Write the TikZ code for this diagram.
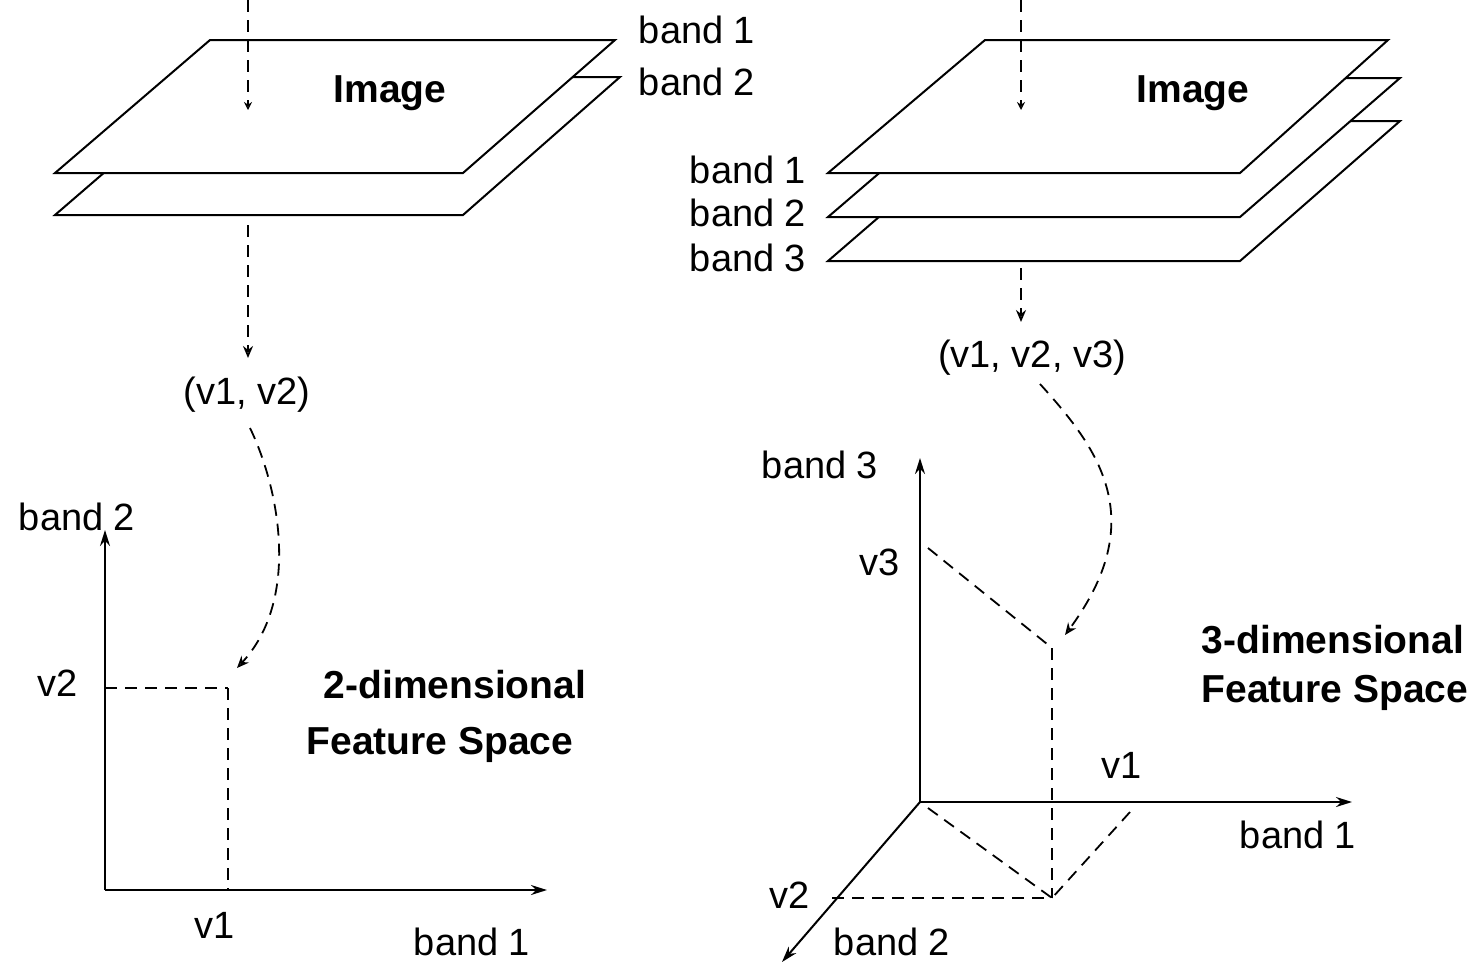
\documentclass[tikz,border=0pt]{standalone}
\usepackage{fontspec}
\setmainfont{Liberation Sans}
\usetikzlibrary{arrows.meta}
\begin{document}
\begin{tikzpicture}[x=0.5pt,y=-0.5pt,
  every node/.style={font=\fontsize{19}{21}\selectfont, inner sep=0pt},
  ttl/.style={font=\fontsize{19.5}{21}\selectfont\bfseries},
  plane/.style={draw, line width=1pt, fill=white, line join=miter},
  axis/.style={line width=1pt, -{Stealth[length=8pt,width=5pt]}},
  dsh/.style={line width=0.9pt, dash pattern=on 6pt off 4pt},
  darr/.style={dsh, -{Stealth[length=6pt,width=5pt,open]}},
  tarr/.style={dsh, -{Stealth[length=4pt,width=4pt,open]}},
]
\useasboundingbox (0,0) rectangle (1478,966);

% ---------- left: image planes ----------
\draw[plane] (55,215) -- (463,215) -- (620,77) -- (215,77) -- cycle;
\draw[plane] (55,173) -- (463,173) -- (615,40) -- (210,40) -- cycle;
\node (limg) at (390,93) [ttl] {Image};
\node (lb1) at (697,30) {band 1};
\node (lb2) at (697,82) {band 2};

\coordinate (la0) at (248,0);
\coordinate (la1) at (248,110);
\draw[tarr] (la0) -- (la1);
\coordinate (la2) at (248,225);
\coordinate (la3) at (248,358);
\node (lv) at (247,395) {(v1, v2)};
\draw[darr] (la2) -- (la3);

% ---------- left: 2D feature space ----------
\coordinate (lo) at (105,890);
\coordinate (ly) at (105,530);
\coordinate (lx) at (547,890);
\draw[axis] (lo) -- (ly);
\draw[axis] (lo) -- (lx);
\node (lyl) at (77,517) {band 2};
\node (lxl) at (472,942) {band 1};
\coordinate (lp) at (228,688);
\coordinate (lpy) at (105,688);
\coordinate (lpx) at (228,890);
\draw[dsh] (lpy) -- (lp);
\draw[dsh] (lp) -- (lpx);
\node (lv2) at (58,683) {v2};
\node (lv1) at (215,925) {v1};
\coordinate (lc0) at (250,428);
\coordinate (lc1) at (237,668);
\draw[darr] (lc0) .. controls (280,490) and (300,600) .. (lc1);
\node (lt1) at (455,685) [ttl] {2-dimensional};
\node (lt2) at (440,745) [ttl] {Feature Space};

% ---------- right: image planes ----------
\draw[plane] (828,261) -- (1240,261) -- (1400,121) -- (990,121) -- cycle;
\draw[plane] (828,217) -- (1240,217) -- (1400,78) -- (990,78) -- cycle;
\draw[plane] (828,173) -- (1240,173) -- (1388,40) -- (985,40) -- cycle;
\node (rimg) at (1193,93) [ttl] {Image};
\node (rb1) at (748,170) {band 1};
\node (rb2) at (748,213) {band 2};
\node (rb3) at (748,258) {band 3};

\coordinate (ra0) at (1021,0);
\coordinate (ra1) at (1021,110);
\draw[tarr] (ra0) -- (ra1);
\coordinate (ra2) at (1021,268);
\coordinate (ra3) at (1021,322);
\draw[darr] (ra2) -- (ra3);
\node (rv) at (1032,358) {(v1, v2, v3)};

% ---------- right: 3D feature space ----------
\coordinate (ro) at (920,802);
\coordinate (rz) at (920,458);
\coordinate (rx) at (1352,802);
\coordinate (ry) at (782,962);
\draw[axis] (ro) -- (rz);
\draw[axis] (ro) -- (rx);
\draw[axis] (ro) -- (ry);
\node (rzl) at (820,465) {band 3};
\node (rxl) at (1298,835) {band 1};
\node (ryl) at (892,942) {band 2};
\node (rv3) at (880,562) {v3};
\node (rv1) at (1122,765) {v1};
\node (rv2) at (790,895) {v2};

\coordinate (rP) at (1052,648);
\coordinate (rQ) at (1052,898);
\coordinate (rp3) at (928,548);
\coordinate (rp2) at (832,898);
\coordinate (rp1) at (1130,812);
\coordinate (ro2) at (928,808);
\draw[dsh] (rp3) -- (rP);
\draw[dsh] (rP) -- (rQ);
\draw[dsh] (rp2) -- (rQ);
\draw[dsh] (ro2) -- (rQ);
\draw[dsh] (rp1) -- (rQ);
\coordinate (rc0) at (1040,384);
\coordinate (rc1) at (1065,635);
\draw[darr] (rc0) .. controls (1100,450) and (1150,520) .. (rc1);
\node (rt1) at (1333,640) [ttl] {3-dimensional};
\node (rt2) at (1335,693) [ttl] {Feature Space};
\end{tikzpicture}
\end{document}
